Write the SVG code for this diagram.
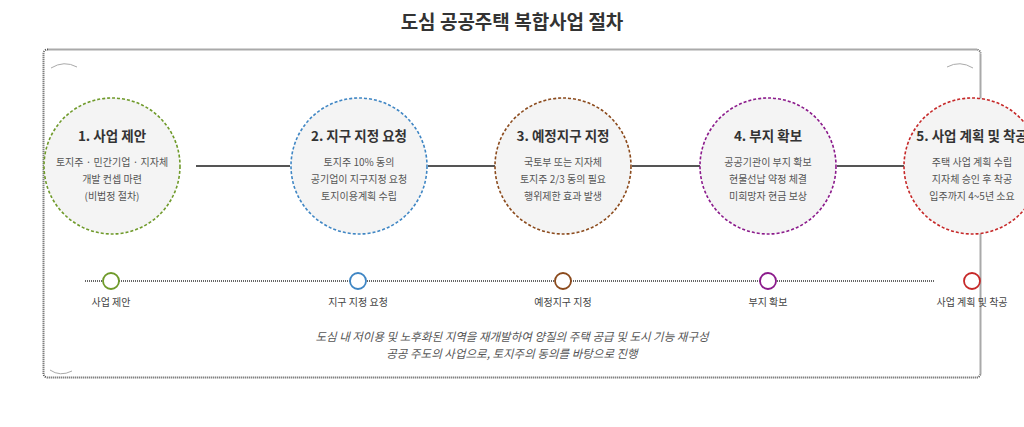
<svg xmlns="http://www.w3.org/2000/svg" width="1024" height="427" viewBox="0 0 1024 427">
<style>
text{font-family:"Noto Sans CJK KR","Noto Sans",sans-serif;text-anchor:middle}
.t{font-size:13.5px;font-weight:bold;fill:#333}
.d{font-size:10px;fill:#555}
.l{font-size:10px;fill:#444}
.f{font-size:11.5px;font-style:italic;fill:#555}
.c{fill:#f4f4f4;stroke-width:1.6;stroke-dasharray:3 2}
.m{fill:#fff;stroke-width:1.8}
.arc{fill:none;stroke:#aaa;stroke-width:1}
</style>
<rect width="1024" height="427" fill="#fff"/>
<text x="512" y="29" style="font-size:19px;font-weight:bold;fill:#333">도심 공공주택 복합사업 절차</text>
<rect x="43.5" y="49.5" width="937" height="328" rx="4" fill="none" stroke="#555" stroke-width="2" stroke-dasharray="1 1"/>
<path class="arc" d="M51 68 Q64 60 77 67"/>
<path class="arc" d="M947 67 Q960 60 973 68"/>
<path class="arc" d="M50 370 Q60 377 72 371"/>
<g id="connectors" stroke="#555" stroke-width="1.8">
<line x1="196" y1="166" x2="290" y2="166"/>
<line x1="428" y1="166" x2="495" y2="166"/>
<line x1="632" y1="166" x2="700" y2="166"/>
<line x1="837" y1="166" x2="904" y2="166"/>
<line x1="85" y1="281" x2="935" y2="281" stroke="#666" stroke-dasharray="1 1" stroke-width="2.2"/>
</g>
<g id="n1"><circle class="c" cx="112" cy="166" r="68" stroke="#6f9a2a"/>
<text class="t" x="112" y="141">1. 사업 제안</text>
<text class="d" x="112" y="166">토지주 · 민간기업 · 지자체</text><text class="d" x="112" y="183">개발 컨셉 마련</text><text class="d" x="112" y="200">(비법정 절차)</text></g>
<g id="n2"><circle class="c" cx="359" cy="166" r="68" stroke="#3f86c4"/>
<text class="t" x="359" y="141">2. 지구 지정 요청</text>
<text class="d" x="359" y="166">토지주 10% 동의</text><text class="d" x="359" y="183">공기업이 지구지정 요청</text><text class="d" x="359" y="200">토지이용계획 수립</text></g>
<g id="n3"><circle class="c" cx="563" cy="166" r="68" stroke="#8b4a1c"/>
<text class="t" x="563" y="141">3. 예정지구 지정</text>
<text class="d" x="563" y="166">국토부 또는 지자체</text><text class="d" x="563" y="183">토지주 2/3 동의 필요</text><text class="d" x="563" y="200">행위제한 효과 발생</text></g>
<g id="n4"><circle class="c" cx="768" cy="166" r="68" stroke="#8b1a8b"/>
<text class="t" x="768" y="141">4. 부지 확보</text>
<text class="d" x="768" y="166">공공기관이 부지 확보</text><text class="d" x="768" y="183">현물선납 약정 체결</text><text class="d" x="768" y="200">미희망자 현금 보상</text></g>
<g id="n5"><circle class="c" cx="972" cy="166" r="68" stroke="#c62828"/>
<text class="t" x="972" y="141">5. 사업 계획 및 착공</text>
<text class="d" x="972" y="166">주택 사업 계획 수립</text><text class="d" x="972" y="183">지자체 승인 후 착공</text><text class="d" x="972" y="200">입주까지 4~5년 소요</text></g>
<g id="timeline">
<circle class="m" cx="111" cy="281" r="8" stroke="#6f9a2a"/><text class="l" x="111" y="306">사업 제안</text>
<circle class="m" cx="358" cy="281" r="8" stroke="#3f86c4"/><text class="l" x="358" y="306">지구 지정 요청</text>
<circle class="m" cx="563" cy="281" r="8" stroke="#8b4a1c"/><text class="l" x="563" y="306">예정지구 지정</text>
<circle class="m" cx="768" cy="281" r="8" stroke="#8b1a8b"/><text class="l" x="768" y="306">부지 확보</text>
<circle class="m" cx="972" cy="281" r="8" stroke="#c62828"/><text class="l" x="972" y="306">사업 계획 및 착공</text>
</g>
<text class="f" x="512" y="341">도심 내 저이용 및 노후화된 지역을 재개발하여 양질의 주택 공급 및 도시 기능 재구성</text>
<text class="f" x="512" y="358">공공 주도의 사업으로, 토지주의 동의를 바탕으로 진행</text>
</svg>
